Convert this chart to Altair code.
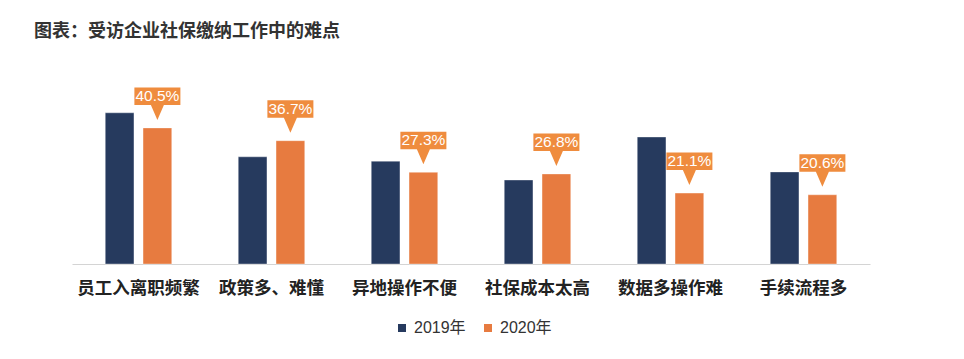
import altair as alt
import pandas as pd

categories = ["员工入离职频繁", "政策多、难懂", "异地操作不便", "社保成本太高", "数据多操作难", "手续流程多"]
years = ["2019年", "2020年"]
values_2019 = [45.0, 31.9, 30.6, 25.0, 37.8, 27.4]
values_2020 = [40.5, 36.7, 27.3, 26.8, 21.1, 20.6]
colors = ["#263a5e", "#e77b40"]
title_text = "图表：受访企业社保缴纳工作中的难点"

rows = []
for c, a, b in zip(categories, values_2019, values_2020):
    rows.append({"cat": c, "year": years[0], "value": a})
    rows.append({"cat": c, "year": years[1], "value": b})
df = pd.DataFrame(rows)
df["label"] = df["value"].map(lambda v: f"{v:.1f}%")
lab = df[df["year"] == years[1]]

x = alt.X("cat:N", sort=categories, title=None,
          scale=alt.Scale(paddingInner=0.5, paddingOuter=0.25),
          axis=alt.Axis(labelAngle=0, labelFontSize=17.5, labelFontWeight="bold",
                        labelFont="Noto Sans CJK SC", labelColor="#222222",
                        labelPadding=15, ticks=False, domainColor="#d4d4d4",
                        domainWidth=1.2, grid=False))
xo = alt.XOffset("year:N", sort=years,
                 scale=alt.Scale(domain=years, paddingInner=0.24, paddingOuter=0))
y = alt.Y("value:Q", title=None,
          scale=alt.Scale(domain=[0, 50], nice=False, zero=True), axis=None)

bars = alt.Chart(df).mark_bar(stroke="#ffffff", strokeWidth=0.6, strokeOpacity=0.6).encode(
    x=x, xOffset=xo, y=y,
    color=alt.Color("year:N", sort=years,
                    scale=alt.Scale(domain=years, range=colors),
                    legend=alt.Legend(title=None, orient="none", direction="horizontal",
                                      legendX=322, legendY=224, symbolType="square",
                                      symbolSize=64, symbolStrokeWidth=0,
                                      labelFontSize=16, labelColor="#333333",
                                      labelFont="Liberation Sans, Noto Sans CJK SC",
                                      labelOffset=4, columnPadding=14, padding=0)),
)

callout_path = ("M0,0 L-0.283,-0.652 L-1,-0.652 L-1,-1.413 L1,-1.413 "
                "L1,-0.652 L0.283,-0.652 Z")

boxes = alt.Chart(lab).mark_point(
    shape=callout_path, size=2116, filled=True, fill="#ef8c3e",
    strokeWidth=0, opacity=1, yOffset=-8,
).encode(x=x, xOffset=xo, y=y)

texts = alt.Chart(lab).mark_text(
    color="#ffffff", fontSize=15.5, font="Liberation Sans", fontWeight="normal",
    baseline="middle", align="center", yOffset=-32,
).encode(x=x, xOffset=xo, y=y, text="label:N")

chart = alt.layer(bars, boxes, texts).properties(
    width=798, height=168,
    background="#ffffff",
    title=alt.TitleParams(title_text, anchor="start", frame="group", dx=-38,
                          fontSize=18, font="Noto Sans CJK SC", fontWeight="bold",
                          color="#333333", offset=46),
    autosize=alt.AutoSizeParams(type="none"),
    padding={"left": 64, "top": 88, "right": 86, "bottom": 87},
).configure_view(stroke=None)

chart.save("out.html", embed_options={"renderer": "svg", "actions": False})
